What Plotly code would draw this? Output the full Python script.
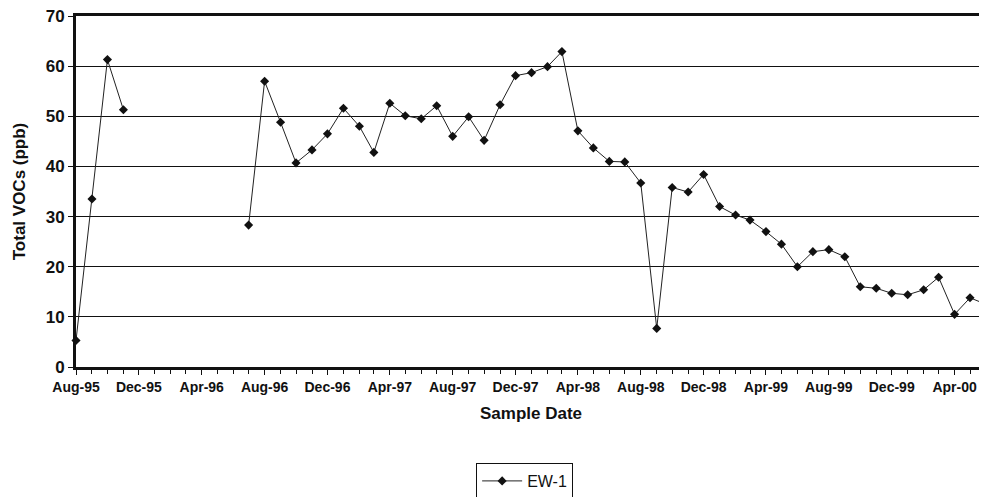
import plotly.graph_objects as go

# monthly samples, EW-1 (None = no sample that month)
sample_dates = [
    "1995-08", "1995-09", "1995-10", "1995-11", "1995-12",
    "1996-01", "1996-02", "1996-03", "1996-04", "1996-05", "1996-06",
    "1996-07", "1996-08", "1996-09", "1996-10", "1996-11", "1996-12",
    "1997-01", "1997-02", "1997-03", "1997-04", "1997-05", "1997-06",
    "1997-07", "1997-08", "1997-09", "1997-10", "1997-11", "1997-12",
    "1998-01", "1998-02", "1998-03", "1998-04", "1998-05", "1998-06",
    "1998-07", "1998-08", "1998-09", "1998-10", "1998-11", "1998-12",
    "1999-01", "1999-02", "1999-03", "1999-04", "1999-05", "1999-06",
    "1999-07", "1999-08", "1999-09", "1999-10", "1999-11", "1999-12",
    "2000-01", "2000-02", "2000-03", "2000-04", "2000-05", "2000-06",
]
ew1_vocs = [
    5.3, 33.5, 61.3, 51.3, None,
    None, None, None, None, None, None,
    28.3, 57.0, 48.8, 40.7, 43.3, 46.5,
    51.6, 48.0, 42.8, 52.6, 50.1, 49.5,
    52.1, 46.0, 49.9, 45.2, 52.3, 58.1,
    58.7, 59.9, 62.9, 47.1, 43.7, 41.0,
    40.9, 36.7, 7.7, 35.8, 34.9, 38.4,
    32.0, 30.3, 29.3, 27.0, 24.5, 20.0,
    23.0, 23.4, 22.0, 16.0, 15.7, 14.7,
    14.4, 15.4, 17.9, 10.5, 13.8, 12.5,
]

font_family = "Liberation Sans, Arial, sans-serif"
ink = "#111111"

fig = go.Figure()
fig.add_trace(go.Scatter(
    x=[d + "-01" for d in sample_dates], y=ew1_vocs,
    mode="lines+markers", name="EW-1",
    line=dict(color="#222222", width=1),
    marker=dict(symbol="diamond", size=7, color=ink),
    connectgaps=False, cliponaxis=False,
))

# the page adds an 8px body margin, so margins are trimmed to suit
fig.update_layout(
    width=987, height=497,
    margin=dict(l=68, r=9, t=8, b=138, autoexpand=False),
    paper_bgcolor="white", plot_bgcolor="white",
    font=dict(family=font_family, color=ink),
    showlegend=True,
    legend=dict(
        x=0.493, y=-0.2735, xanchor="center", yanchor="top",
        bordercolor=ink, borderwidth=1,
        font=dict(size=16), itemwidth=40,
    ),
)

fig.update_xaxes(
    type="date", range=["1995-08-01", "2000-06-01"],
    dtick="M4", tick0="1995-08-01", tickformat="%b-%y", tickangle=0,
    ticks="outside", ticklen=5, tickcolor=ink,
    minor=dict(dtick="M1", ticks="outside", ticklen=4, tickcolor=ink),
    tickfont=dict(size=14, weight="bold"), ticklabeloverflow="allow",
    showgrid=False, showline=True, linecolor=ink, linewidth=3, mirror=True,
    automargin=False,
    title=dict(text="Sample Date", font=dict(size=17, weight="bold"), standoff=14),
)
fig.update_yaxes(
    range=[0, 70], dtick=10,
    ticks="outside", ticklen=5, tickcolor=ink,
    tickfont=dict(size=17, weight="bold"), ticklabeloverflow="allow",
    showgrid=True, gridcolor=ink, gridwidth=1,
    zeroline=False, showline=True, linecolor=ink, linewidth=3,
    automargin=False,
    title=dict(text="Total VOCs (ppb)", font=dict(size=17, weight="bold"), standoff=16),
)

# thin right border of the plot frame
fig.add_shape(type="line", xref="paper", yref="paper", x0=1, x1=1, y0=0, y1=1,
              line=dict(color=ink, width=1))

fig.write_html("out.html")
